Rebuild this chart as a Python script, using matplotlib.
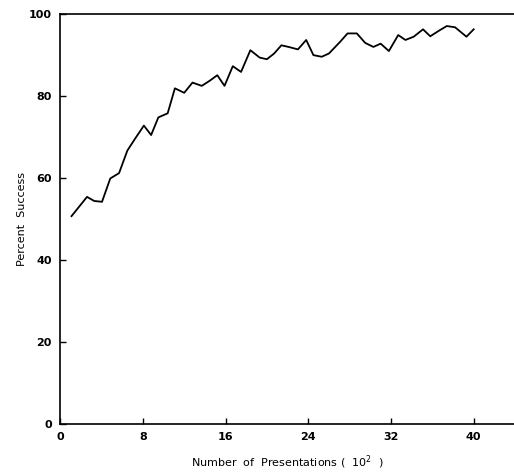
import matplotlib
matplotlib.use("Agg")
import matplotlib.pyplot as plt

# Data (x in units of 10^2 presentations)
presentations = [1.1, 2.6, 3.3, 4.05, 4.85, 5.7, 6.5, 7.3, 8.1, 8.8, 9.5, 10.4,
                 11.1, 12.0, 12.8, 13.7, 14.5, 15.2, 15.9, 16.7, 17.5, 18.4,
                 19.3, 20.0, 20.7, 21.4, 22.1, 23.0, 23.8, 24.5, 25.3, 26.0,
                 27.1, 27.8, 28.7, 29.5, 30.3, 31.0, 31.8, 32.7, 33.4, 34.2,
                 35.1, 35.8, 36.6, 37.4, 38.2, 39.3, 40.0]
percent_success = [50.7, 55.4, 54.4, 54.2, 59.9, 61.2, 66.7, 69.8, 72.8, 70.5,
                   74.8, 75.8, 81.9, 80.8, 83.3, 82.5, 83.8, 85.1, 82.5, 87.3,
                   85.9, 91.2, 89.4, 89.0, 90.4, 92.4, 92.0, 91.4, 93.7, 90.0,
                   89.6, 90.4, 93.3, 95.3, 95.3, 93.0, 92.0, 92.8, 91.0, 94.9,
                   93.7, 94.5, 96.3, 94.6, 95.9, 97.1, 96.8, 94.5, 96.3]
x_ticks = [0, 8, 16, 24, 32, 40]
y_ticks = [0, 20, 40, 60, 80, 100]

fig = plt.figure(figsize=(5.14, 4.72), dpi=100)
ax = fig.add_axes([0.117, 0.102, 0.883, 0.868])

ax.plot(presentations, percent_success, color="black", lw=1.3)

ax.set_xlim(0, 43.9)
ax.set_ylim(0, 100)
ax.set_xticks(x_ticks)
ax.set_yticks(y_ticks)
ax.tick_params(direction="in", length=4, width=1, labelsize=8, pad=6)
for lbl in ax.get_xticklabels() + ax.get_yticklabels():
    lbl.set_fontweight("bold")

ax.spines["right"].set_visible(False)
for s in ["left", "bottom", "top"]:
    ax.spines[s].set_linewidth(1.2)

ax.set_xlabel("Number  of  Presentations (  10$^2$  )", fontsize=8, labelpad=8)
ax.set_ylabel("Percent  Success", fontsize=8, labelpad=1)

fig.savefig("out.png", dpi=100)
